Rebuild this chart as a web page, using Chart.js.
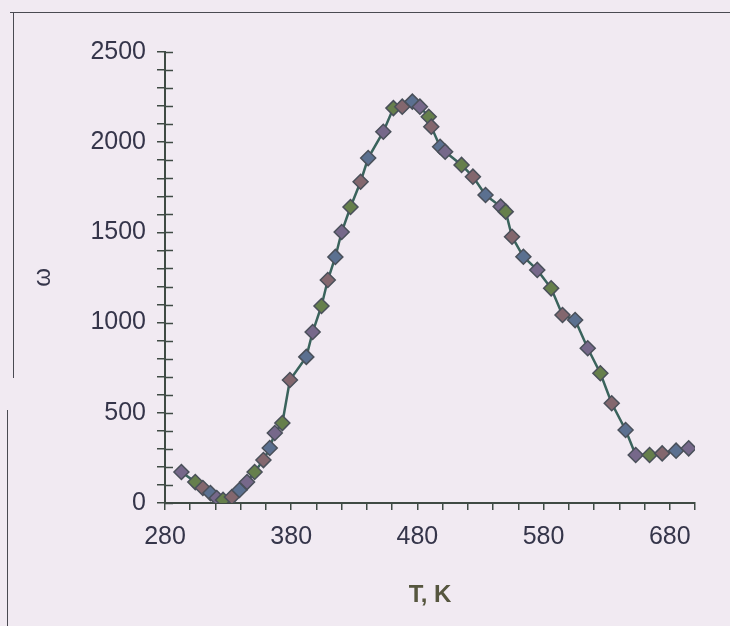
<!DOCTYPE html>
<html>
<head>
<meta charset="utf-8">
<script src="https://cdn.jsdelivr.net/npm/chart.js@4.4.1/dist/chart.umd.min.js"></script>
<style>
  html, body { margin: 0; padding: 0; background: #f1eaf2; }
  #wrap { position: relative; width: 730px; height: 626px; }
  #chart { position: absolute; left: 0; top: 0; }
  .frame { position: absolute; background: #4a4a52; }
</style>
</head>
<body>
<div id="wrap">
  <div class="frame" style="left:10px;top:12px;width:720px;height:1px;"></div>
  <div class="frame" style="left:13px;top:12px;width:1px;height:366px;"></div>
  <div class="frame" style="left:7px;top:410px;width:1px;height:216px;"></div>
  <canvas id="chart" width="730" height="626"></canvas>
</div>
<script>
// temperature, K
const temps = [293, 304, 310, 316, 321, 326, 333, 339, 345, 351, 358, 363, 367, 373,
  379, 392, 397, 404, 409, 415, 420, 427, 435, 441, 453, 461, 468, 476, 482, 489,
  491, 498, 502, 515, 524, 534, 546, 550, 555, 564, 575, 586, 595, 605, 615, 625,
  634, 645, 653, 664, 674, 685, 695];
// omega values
const omega = [172, 116, 83, 55, 28, 17, 33, 72, 116, 172, 238, 305, 388, 443,
  682, 810, 948, 1092, 1236, 1364, 1502, 1641, 1781, 1912, 2058, 2189, 2197, 2225, 2197, 2141,
  2086, 1975, 1947, 1874, 1809, 1707, 1643, 1615, 1476, 1365, 1292, 1190, 1042, 1014, 858, 719,
  553, 405, 266, 266, 275, 290, 303];

const xMin = 280, xMax = 700, xStep = 20, xLabelEvery = 100;
const yMin = 0, yMax = 2500, yStep = 100, yLabelEvery = 500;

const markerColors = ["#76688a", "#667f4c", "#83676e", "#5b7090"];

const points = temps.map((t, i) => ({ x: t, y: omega[i] }));

// short tick marks on the inner side of the y axis
const innerTicks = {
  id: "innerTicks",
  afterDraw(chart) {
    const ctx = chart.ctx;
    const y = chart.scales.y;
    const left = chart.chartArea.left;
    ctx.save();
    ctx.strokeStyle = "#3f4a44";
    ctx.lineWidth = 1.5;
    for (let v = yMin; v <= yMax; v += yStep) {
      const py = Math.round(y.getPixelForValue(v)) + 0.5;
      ctx.beginPath();
      ctx.moveTo(left, py);
      ctx.lineTo(left + 8, py);
      ctx.stroke();
    }
    ctx.restore();
  }
};

new Chart(document.getElementById("chart"), {
  type: "scatter",
  data: {
    datasets: [{
      data: points,
      showLine: true,
      borderColor: "#3a635c",
      borderWidth: 2.5,
      pointStyle: "rectRot",
      pointRadius: 7.5,
      pointBorderWidth: 1.5,
      pointBackgroundColor: temps.map((_, i) => markerColors[i % markerColors.length]),
      pointBorderColor: "#4a505a",
      tension: 0
    }]
  },
  options: {
    responsive: false,
    animation: false,
    layout: { padding: { top: 52, right: 35, left: 0, bottom: 0 } },
    plugins: { legend: { display: false }, tooltip: { enabled: false } },
    scales: {
      x: {
        type: "linear",
        min: xMin,
        max: xMax,
        afterFit(scale) { scale.height = 123; },
        border: { display: true, color: "#3f4a44", width: 2 },
        grid: { drawOnChartArea: false, drawTicks: true, tickLength: 7, color: "#3f4a44", lineWidth: 1.5 },
        ticks: {
          stepSize: xStep,
          autoSkip: false,
          maxRotation: 0,
          padding: 12,
          color: "#35354a",
          font: { family: "Liberation Sans, Arial, sans-serif", size: 25 },
          callback: (v) => ((v - xMin) % xLabelEvery === 0 ? String(v) : "")
        },
        title: {
          display: true,
          text: "T, K",
          color: "#56563f",
          font: { family: "Liberation Sans, Arial, sans-serif", size: 24, weight: "bold" },
          padding: { top: 0, bottom: 16 }
        }
      },
      y: {
        min: yMin,
        max: yMax,
        afterFit(scale) { scale.width = 165; },
        border: { display: true, color: "#3f4a44", width: 2 },
        grid: { drawOnChartArea: false, drawTicks: true, tickLength: 8, color: "#3f4a44", lineWidth: 1.5 },
        ticks: {
          stepSize: yStep,
          autoSkip: false,
          padding: 11,
          color: "#35354a",
          font: { family: "Liberation Sans, Arial, sans-serif", size: 25 },
          callback: (v) => (v % yLabelEvery === 0 ? String(v) : "")
        },
        title: {
          display: true,
          text: "ω",
          color: "#35354a",
          font: { family: "Liberation Sans, Arial, sans-serif", size: 24 },
          padding: { top: 29, bottom: 0 }
        }
      }
    }
  },
  plugins: [innerTicks]
});
</script>
</body>
</html>
